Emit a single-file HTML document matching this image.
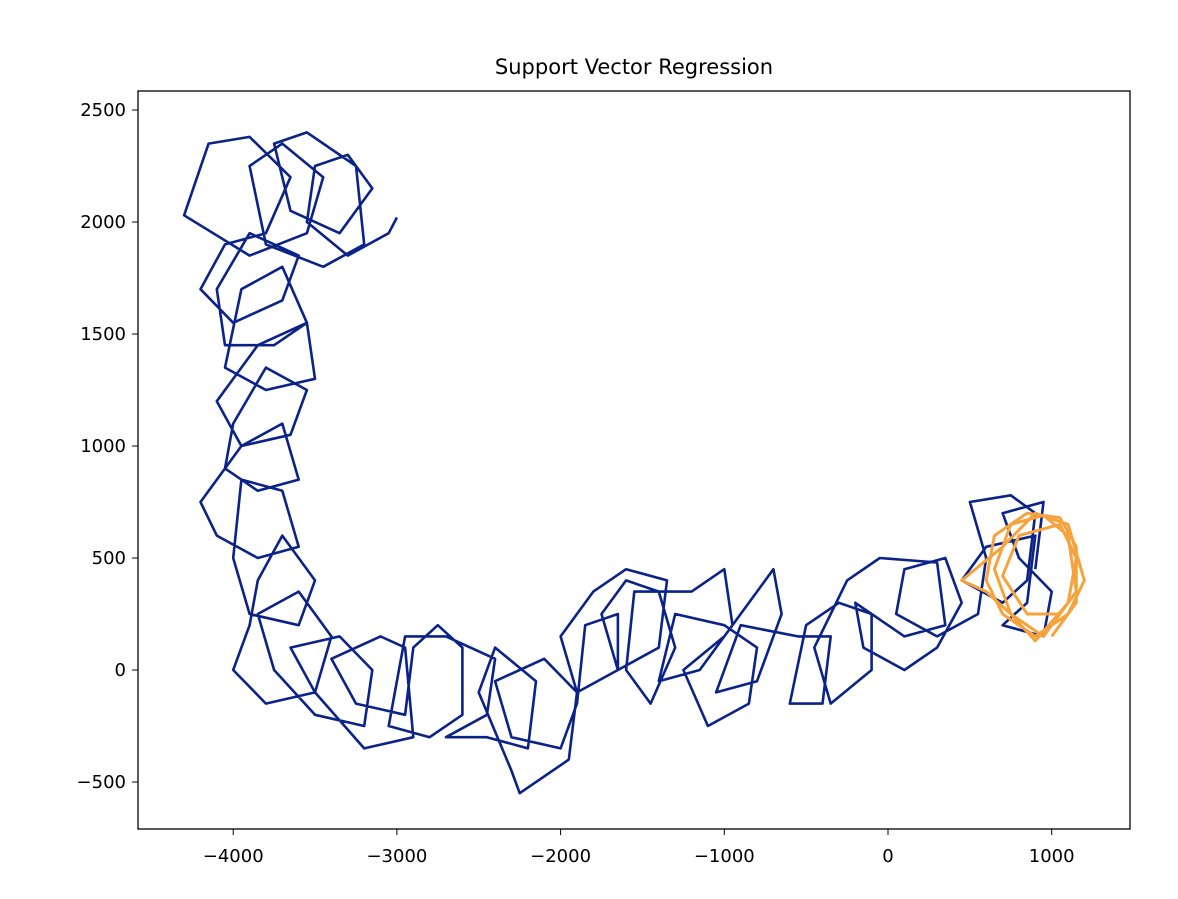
<!DOCTYPE html>
<html><head><meta charset="utf-8"><style>
body{margin:0;background:#fff;}
svg text{font-family:"DejaVu Sans","Liberation Sans",sans-serif;fill:#000;}
</style></head><body>
<svg width="1178" height="894" xmlns="http://www.w3.org/2000/svg">
<rect width="1178" height="894" fill="#fff"/>
<text x="634" y="74" font-size="21" text-anchor="middle">Support Vector Regression</text>
<g id="series"></g>
<rect x="138" y="91" width="992" height="738" fill="none" stroke="#000" stroke-width="1.3"/>
<g id="axes"></g>
</svg>
<script>
const xTicks=[-4000,-3000,-2000,-1000,0,1000];
const yTicks=[-500,0,500,1000,1500,2000,2500];
const blueX=[-3000,-3050,-3300,-3550,-3500,-3300,-3150,-3350,-3650,-3750,-3550,-3250,-3200,-3450,-3800,-3900,-3700,-3450,-3550,-3900,-4300,-4150,-3900,-3650,
-3800,-4050,-4200,-4000,-3700,-3600,-3900,-4100,-4050,-3750,-3550,-3700,-3950,-4050,-3800,-3500,-3550,-3850,-4100,-3950,-3650,-3550,-3800,-4000,-4050,-3850,-3600,-3700,-3950,-4200,-4100,-3850,-3600,-3700,-3950,-4000,-3900,-3600,-3500,-3700,-3850,-3900,-4000,-3800,-3500,-3400,-3600,-3850,-3750,-3500,-3200,-3150,-3350,-3650,-3500,-3200,-2900,-2950,-3100,-3400,-3250,-2950,-2900,-2750,-2600,-2600,-2800,-3050,-2950,-2700,-2400,-2450,-2700,
-2450,-2200,-2150,-2400,-2500,-2300,-2250,-1950,-1900,-2100,-2400,-2300,-2000,-1900,-1850,-1650,-1650,-1900,-2000,-1800,-1600,-1350,-1400,-1650,-1750,-1600,-1400,-1300,-1450,-1600,-1550,-1200,-1000,-950,-1150,-1400,-1300,-1000,-800,-850,-1100,-1250,-1000,-700,-650,-800,-1050,-900,-550,-350,-400,-600,-500,-300,-100,-100,-350,-450,-250,-50,300,350,100,-200,-150,100,300,450,350,100,50,300,550,600,500,750,900,850,700,450,600,900,850,700,950,1000,800,700,950,900];
const blueY=[2020,1950,1850,2000,2250,2300,2150,1950,2050,2350,2400,2250,1900,1800,1900,2250,2350,2200,1950,1850,2030,2350,2380,2200,
1950,1900,1700,1550,1650,1850,1950,1700,1450,1450,1550,1800,1700,1350,1250,1300,1550,1450,1200,1000,1050,1250,1350,1100,900,800,850,1100,1000,750,600,500,550,800,850,500,250,200,400,600,400,200,0,-150,-100,150,350,250,0,-200,-250,0,150,100,-100,-350,-300,100,150,50,-150,-200,100,200,100,-200,-300,-250,150,150,50,-200,-300,
-300,-350,-50,100,-100,-450,-550,-400,-100,50,-50,-300,-350,-150,200,250,0,-100,150,350,450,400,100,0,250,400,350,100,-150,0,350,350,450,200,0,-50,250,200,100,-150,-250,0,150,450,250,-50,-100,200,150,150,-150,-150,200,300,250,0,-150,100,400,500,480,200,150,300,100,0,100,300,500,450,250,150,250,500,750,780,700,400,300,400,550,600,300,200,150,350,500,700,750,450];
const orangeX=[1000,1150,1150,1050,850,650,600,700,900,1100,1200,1100,900,700,450,600,750,950,1150,1100,950,750,650,750,900,1100,1150,1050,800,700,850,1050];
const orangeY=[150,300,550,680,700,600,400,250,150,250,400,650,700,550,400,350,250,150,350,600,690,650,450,250,130,300,500,650,600,420,250,250];
const X=v=>888+v*0.1637, Y=v=>670-v*0.224;
const NS="http://www.w3.org/2000/svg";
const ser=document.getElementById('series'), ax=document.getElementById('axes');
function line(xs,ys,col,w,name){
  const p=document.createElementNS(NS,'path');
  p.setAttribute('d',xs.map((x,i)=>(i?'L':'M')+X(x).toFixed(1)+' '+Y(ys[i]).toFixed(1)).join(''));
  p.setAttribute('fill','none');p.setAttribute('stroke',col);p.setAttribute('stroke-width',w);p.setAttribute('stroke-linejoin','round');
  
  
  ser.appendChild(p);
}
line(blueX,blueY,'#0b2388',2.6,'actual-trajectory-line');
line(orangeX,orangeY,'#f5a33c',3,'predicted-trajectory-line');
xTicks.forEach(t=>{
  const l=document.createElementNS(NS,'line');
  l.setAttribute('x1',X(t));l.setAttribute('x2',X(t));l.setAttribute('y1',829);l.setAttribute('y2',835);l.setAttribute('stroke','#000');
  
  
  ax.appendChild(l);
  const tx=document.createElementNS(NS,'text');
  tx.setAttribute('x',X(t));tx.setAttribute('y',862);tx.setAttribute('font-size','18');tx.setAttribute('text-anchor','middle');
  tx.textContent=(t<0?'\u2212'+(-t):t);
  
  
  ax.appendChild(tx);
});
yTicks.forEach(t=>{
  const l=document.createElementNS(NS,'line');
  l.setAttribute('x1',132);l.setAttribute('x2',138);l.setAttribute('y1',Y(t));l.setAttribute('y2',Y(t));l.setAttribute('stroke','#000');
  
  
  ax.appendChild(l);
  const tx=document.createElementNS(NS,'text');
  tx.setAttribute('x',126);tx.setAttribute('y',Y(t)+6);tx.setAttribute('font-size','18');tx.setAttribute('text-anchor','end');
  tx.textContent=(t<0?'\u2212'+(-t):t);
  
  
  ax.appendChild(tx);
});
</script>
</body></html>
